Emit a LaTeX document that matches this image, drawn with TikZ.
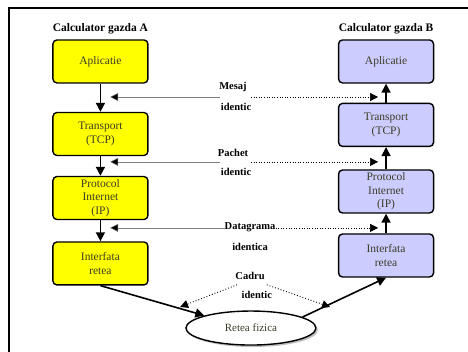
\documentclass[tikz,border=0pt]{standalone}
\usepackage{fontspec}
\setmainfont{Liberation Serif}
\usetikzlibrary{arrows.meta,shadows,shapes.geometric,positioning}
\definecolor{galben}{RGB}{255,255,0}
\definecolor{lila}{RGB}{204,204,255}
\definecolor{textnivel}{RGB}{60,60,40}
\tikzset{
  nivel/.style={draw,line width=1.4pt,rounded corners=4pt,minimum width=95pt,minimum height=43pt,
    align=center,inner sep=0pt,text=textnivel,font=\fontsize{11.5}{13.5}\selectfont},
  nivela/.style={nivel,fill=galben},
  nivelb/.style={nivel,fill=lila},
  titlu/.style={font=\fontsize{11.5}{13}\selectfont\bfseries},
  eticheta/.style={font=\fontsize{10.5}{12}\selectfont\bfseries,inner sep=0pt},
  sus/.style={line width=1.6pt,-{Triangle[length=9pt,width=9pt]}},
  stanga/.style={draw=gray,line width=0.5pt,-{Triangle[length=8pt,width=8pt,fill=black]}},
  dreapta/.style={line width=0.6pt,dotted,-{Triangle[length=8pt,width=8pt]}},
  cadru/.style={line width=0.9pt,dotted,-{Triangle[length=8pt,width=8pt]}}
}
\begin{document}
\begin{tikzpicture}
    \useasboundingbox (0,0) rectangle (16.45,12.37);
    % chenar
    \draw [line width=1.5pt] (0.32,0) -- (0.32,12.09) -- (16.45,12.09);
    % calculator gazda A
    \node [titlu] (ta) at (3.53,11.35) {Calculator gazda A};
    \node [nivela] (a1) at (3.53,10.21) {Aplicatie};
    \node [nivela] (a2) at (3.53,7.66) {Transport\\(TCP)};
    \node [nivela] (a3) at (3.53,5.41) {Protocol\\Internet\\(IP)};
    \node [nivela] (a4) at (3.53,3.11) {Interfata\\retea};
    \draw [sus] (a1) -- (a2);\draw [sus] (a2) -- (a3);\draw [sus] (a3) -- (a4);
    % calculator gazda B
    \node [titlu] (tb) at (13.57,11.35) {Calculator gazda B};
    \node [nivelb] (b1) at (13.57,10.21) {Aplicatie};
    \node [nivelb] (b2) at (13.57,7.98) {Transport\\(TCP)};
    \node [nivelb] (b3) at (13.57,5.64) {Protocol\\Internet\\(IP)};
    \node [nivelb] (b4) at (13.57,3.39) {Interfata\\retea};
    \draw [sus] (b4) -- (b3);\draw [sus] (b3) -- (b2);\draw [sus] (b2) -- (b1);
    % retea fizica
    \node [draw,ellipse,line width=1.4pt,fill=white,minimum width=130pt,minimum height=34pt,
      drop shadow={shadow xshift=2pt,shadow yshift=-2pt,fill=gray},text=textnivel,
      font=\fontsize{11}{12}\selectfont] (retea) at (8.82,0.84) {Retea fizica};
    \draw [sus] (a4.south) -- (retea.165);
    \draw [sus] (retea.12) -- (b4.south);
    % mesaj identic
    \node [eticheta] (mesaj) at (8.19,9.32) {Mesaj};
    \node [eticheta] (mesajid) at (8.30,8.61) {identic};
    \coordinate (m1) at (7.73,8.96);\coordinate (ma) at (3.87,8.96);
    \coordinate (m2) at (8.82,8.96);\coordinate (mb) at (13.29,8.96);
    \draw [stanga] (m1) -- (ma);\draw [dreapta] (m2) -- (mb);
    % pachet identic
    \node [eticheta] (pachet) at (8.19,6.99) {Pachet};
    \node [eticheta] (pachetid) at (8.30,6.33) {identic};
    \coordinate (p1) at (7.73,6.68);\coordinate (pa) at (3.87,6.68);
    \coordinate (p2) at (8.82,6.68);\coordinate (pb) at (13.29,6.68);
    \draw [stanga] (p1) -- (pa);\draw [dreapta] (p2) -- (pb);
    % datagrama identica
    \node [eticheta,anchor=base] (datag) at (8.79,4.30) {Datagrama};
    \node [eticheta] (datagid) at (8.79,3.69) {identica};
    \coordinate (da) at (3.87,4.36);\coordinate (db) at (13.29,4.36);
    \draw [stanga] (datag.west |- da) -- (da);\draw [dreapta] (datag.east |- db) -- (db);
    % cadru identic
    \node [eticheta] (cadru) at (8.79,2.67) {Cadru};
    \node [eticheta] (cadruid) at (9.03,2.00) {identic};
    \coordinate (c1) at (8.33,2.36);\coordinate (ca) at (6.33,1.58);
    \coordinate (c2) at (9.38,2.36);\coordinate (cb) at (11.60,1.58);
    \draw [cadru] (c1) -- (ca);\draw [cadru] (c2) -- (cb);
\end{tikzpicture}
\end{document}
